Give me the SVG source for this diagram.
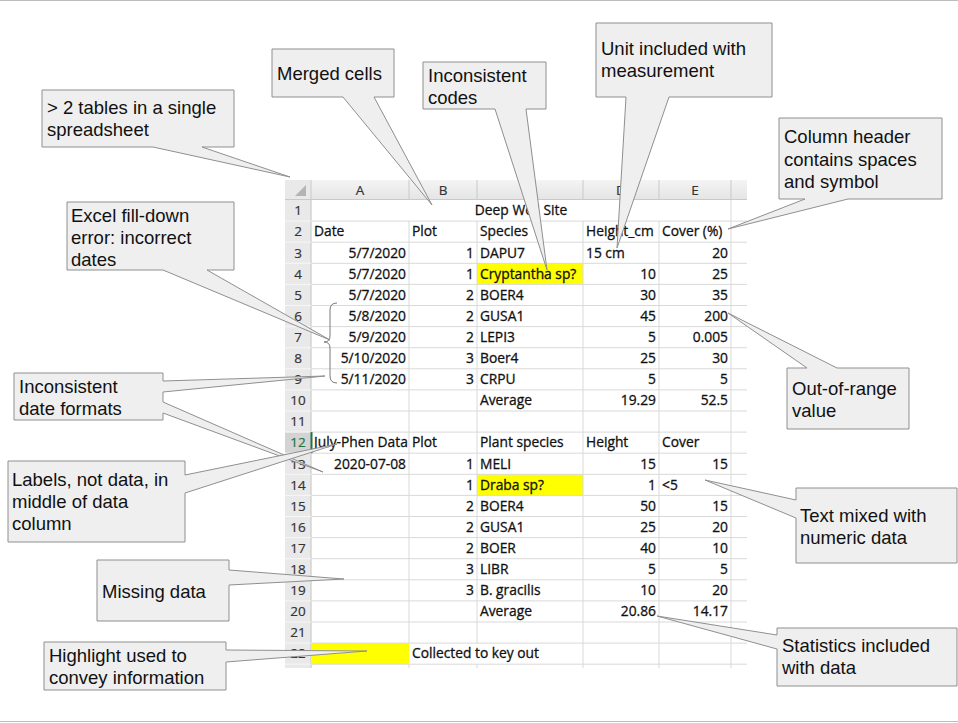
<svg xmlns="http://www.w3.org/2000/svg" width="958" height="723" viewBox="0 0 958 723">
<defs>
<linearGradient id="hdr" x1="0" y1="0" x2="0" y2="1">
<stop offset="0" stop-color="#f4f4f4"/>
<stop offset="1" stop-color="#e4e4e4"/>
</linearGradient>
<style>
.c{font-family:"Open Sans","DejaVu Sans",sans-serif;font-size:13.8px;fill:#111;stroke:#111;stroke-width:0.3}
.r{text-anchor:end}
.m{text-anchor:middle}
.h{font-family:"Open Sans","DejaVu Sans",sans-serif;font-size:13.5px;fill:#333;stroke:#333;stroke-width:0.2;text-anchor:middle}
.g{stroke:#d9d9d9;stroke-width:1;fill:none}
.co{fill:#efefef;stroke:#8f8f8f;stroke-width:1}
.t{font-family:"Liberation Sans",Arial,sans-serif;font-size:18.5px;fill:#111}
</style>
</defs>
<rect width="958" height="723" fill="#fff"/>
<line x1="0" y1="0.5" x2="958" y2="0.5" stroke="#bdbdbd"/>
<line x1="0" y1="721.5" x2="958" y2="721.5" stroke="#bdbdbd"/>

<g id="sheet">
<rect x="285" y="180" width="462" height="20" fill="url(#hdr)"/>
<rect x="285" y="180" width="26" height="488" fill="#e9e9e9"/>
<rect x="285" y="432.1" width="26" height="21.1" fill="#d3d3d3"/>
<polygon points="306,185 306,196 295,196" fill="#b4b4b4"/>
<g stroke="#c9c9c9" stroke-width="1">
<line x1="311" y1="180" x2="311" y2="200"/><line x1="409" y1="180" x2="409" y2="200"/><line x1="477" y1="180" x2="477" y2="200"/><line x1="583" y1="180" x2="583" y2="200"/><line x1="659" y1="180" x2="659" y2="200"/><line x1="731" y1="180" x2="731" y2="200"/>
<line x1="285" y1="199.5" x2="747" y2="199.5"/>
</g>
<line x1="311" y1="200" x2="311" y2="668" stroke="#c2c2c2"/>
<g stroke="#f7f7f7" stroke-width="1">
<line x1="285" y1="221.1" x2="311" y2="221.1"/><line x1="285" y1="242.2" x2="311" y2="242.2"/><line x1="285" y1="263.3" x2="311" y2="263.3"/><line x1="285" y1="284.4" x2="311" y2="284.4"/><line x1="285" y1="305.5" x2="311" y2="305.5"/><line x1="285" y1="326.6" x2="311" y2="326.6"/><line x1="285" y1="347.7" x2="311" y2="347.7"/><line x1="285" y1="368.8" x2="311" y2="368.8"/><line x1="285" y1="389.9" x2="311" y2="389.9"/><line x1="285" y1="411" x2="311" y2="411"/><line x1="285" y1="432.1" x2="311" y2="432.1"/><line x1="285" y1="453.2" x2="311" y2="453.2"/><line x1="285" y1="474.3" x2="311" y2="474.3"/><line x1="285" y1="495.4" x2="311" y2="495.4"/><line x1="285" y1="516.5" x2="311" y2="516.5"/><line x1="285" y1="537.6" x2="311" y2="537.6"/><line x1="285" y1="558.7" x2="311" y2="558.7"/><line x1="285" y1="579.8" x2="311" y2="579.8"/><line x1="285" y1="600.9" x2="311" y2="600.9"/><line x1="285" y1="622" x2="311" y2="622"/><line x1="285" y1="643.1" x2="311" y2="643.1"/><line x1="285" y1="664.2" x2="311" y2="664.2"/>
</g>
<rect x="477" y="263.3" width="106" height="21.1" fill="#ffff00"/>
<rect x="477" y="474.3" width="106" height="21.1" fill="#ffff00"/>
<rect x="311" y="643.1" width="98" height="21.1" fill="#ffff00"/>
<g class="g">
<line x1="311" y1="221.1" x2="747" y2="221.1"/><line x1="311" y1="242.2" x2="747" y2="242.2"/><line x1="311" y1="263.3" x2="747" y2="263.3"/><line x1="311" y1="284.4" x2="747" y2="284.4"/><line x1="311" y1="305.5" x2="747" y2="305.5"/><line x1="311" y1="326.6" x2="747" y2="326.6"/><line x1="311" y1="347.7" x2="747" y2="347.7"/><line x1="311" y1="368.8" x2="747" y2="368.8"/><line x1="311" y1="389.9" x2="747" y2="389.9"/><line x1="311" y1="411" x2="747" y2="411"/><line x1="311" y1="432.1" x2="747" y2="432.1"/><line x1="311" y1="453.2" x2="747" y2="453.2"/><line x1="311" y1="474.3" x2="747" y2="474.3"/><line x1="311" y1="495.4" x2="747" y2="495.4"/><line x1="311" y1="516.5" x2="747" y2="516.5"/><line x1="311" y1="537.6" x2="747" y2="537.6"/><line x1="311" y1="558.7" x2="747" y2="558.7"/><line x1="311" y1="579.8" x2="747" y2="579.8"/><line x1="311" y1="600.9" x2="747" y2="600.9"/><line x1="311" y1="622" x2="747" y2="622"/><line x1="311" y1="643.1" x2="747" y2="643.1"/><line x1="311" y1="664.2" x2="747" y2="664.2"/>
<line x1="409" y1="221.1" x2="409" y2="643.1"/><line x1="409" y1="664.2" x2="409" y2="668"/>
<line x1="477" y1="221.1" x2="477" y2="643.1"/><line x1="477" y1="664.2" x2="477" y2="668"/>
<line x1="583" y1="221.1" x2="583" y2="668"/>
<line x1="659" y1="221.1" x2="659" y2="668"/>
<line x1="731" y1="200" x2="731" y2="668"/>
</g>
<rect x="310.5" y="432.1" width="2" height="21.1" fill="#217346"/>
<text class="h" x="360" y="195">A</text><text class="h" x="443" y="195">B</text><text class="h" x="530" y="195">C</text><text class="h" x="621" y="195">D</text><text class="h" x="695" y="195">E</text>
<g class="h">
<text x="298" y="215.3">1</text><text x="298" y="236.4">2</text><text x="298" y="257.5">3</text><text x="298" y="278.6">4</text><text x="298" y="299.7">5</text><text x="298" y="320.8">6</text><text x="298" y="341.9">7</text><text x="298" y="363">8</text><text x="298" y="384.1">9</text><text x="298" y="405.2">10</text><text x="298" y="426.3">11</text><text x="298" y="447.4" style="fill:#217346;stroke:#217346">12</text><text x="298" y="468.5">13</text><text x="298" y="489.6">14</text><text x="298" y="510.7">15</text><text x="298" y="531.8">16</text><text x="298" y="552.9">17</text><text x="298" y="574">18</text><text x="298" y="595.1">19</text><text x="298" y="616.2">20</text><text x="298" y="637.3">21</text><text x="298" y="658.4">22</text>
</g>
<g class="c">
<text class="m" x="521" y="215.3">Deep Well Site</text>
<text x="314" y="236.4">Date</text><text x="412" y="236.4">Plot</text><text x="480" y="236.4">Species</text><text x="586" y="236.4">Height_cm</text><text x="662" y="236.4">Cover (%)</text>
<text class="r" x="406" y="257.5">5/7/2020</text><text class="r" x="474" y="257.5">1</text><text x="480" y="257.5">DAPU7</text><text x="586" y="257.5">15 cm</text><text class="r" x="728" y="257.5">20</text>
<text class="r" x="406" y="278.6">5/7/2020</text><text class="r" x="474" y="278.6">1</text><text x="480" y="278.6">Cryptantha sp?</text><text class="r" x="656" y="278.6">10</text><text class="r" x="728" y="278.6">25</text>
<text class="r" x="406" y="299.7">5/7/2020</text><text class="r" x="474" y="299.7">2</text><text x="480" y="299.7">BOER4</text><text class="r" x="656" y="299.7">30</text><text class="r" x="728" y="299.7">35</text>
<text class="r" x="406" y="320.8">5/8/2020</text><text class="r" x="474" y="320.8">2</text><text x="480" y="320.8">GUSA1</text><text class="r" x="656" y="320.8">45</text><text class="r" x="728" y="320.8">200</text>
<text class="r" x="406" y="341.9">5/9/2020</text><text class="r" x="474" y="341.9">2</text><text x="480" y="341.9">LEPI3</text><text class="r" x="656" y="341.9">5</text><text class="r" x="728" y="341.9">0.005</text>
<text class="r" x="406" y="363">5/10/2020</text><text class="r" x="474" y="363">3</text><text x="480" y="363">Boer4</text><text class="r" x="656" y="363">25</text><text class="r" x="728" y="363">30</text>
<text class="r" x="406" y="384.1">5/11/2020</text><text class="r" x="474" y="384.1">3</text><text x="480" y="384.1">CRPU</text><text class="r" x="656" y="384.1">5</text><text class="r" x="728" y="384.1">5</text>
<text x="480" y="405.2">Average</text><text class="r" x="656" y="405.2">19.29</text><text class="r" x="728" y="405.2">52.5</text>
<text x="314" y="447.4">July-Phen Data</text><text x="412" y="447.4">Plot</text><text x="480" y="447.4">Plant species</text><text x="586" y="447.4">Height</text><text x="662" y="447.4">Cover</text>
<text class="r" x="406" y="468.5">2020-07-08</text><text class="r" x="474" y="468.5">1</text><text x="480" y="468.5">MELI</text><text class="r" x="656" y="468.5">15</text><text class="r" x="728" y="468.5">15</text>
<text class="r" x="474" y="489.6">1</text><text x="480" y="489.6">Draba sp?</text><text class="r" x="656" y="489.6">1</text><text x="662" y="489.6">&lt;5</text>
<text class="r" x="474" y="510.7">2</text><text x="480" y="510.7">BOER4</text><text class="r" x="656" y="510.7">50</text><text class="r" x="728" y="510.7">15</text>
<text class="r" x="474" y="531.8">2</text><text x="480" y="531.8">GUSA1</text><text class="r" x="656" y="531.8">25</text><text class="r" x="728" y="531.8">20</text>
<text class="r" x="474" y="552.9">2</text><text x="480" y="552.9">BOER</text><text class="r" x="656" y="552.9">40</text><text class="r" x="728" y="552.9">10</text>
<text class="r" x="474" y="574">3</text><text x="480" y="574">LIBR</text><text class="r" x="656" y="574">5</text><text class="r" x="728" y="574">5</text>
<text class="r" x="474" y="595.1">3</text><text x="480" y="595.1">B. gracilis</text><text class="r" x="656" y="595.1">10</text><text class="r" x="728" y="595.1">20</text>
<text x="480" y="616.2">Average</text><text class="r" x="656" y="616.2">20.86</text><text class="r" x="728" y="616.2">14.17</text>
<text x="412" y="658.4">Collected to key out</text>
</g>
</g>

<g id="connectors">
<path d="M337,303 Q330,303 330,310 V336 Q330,342 324,342 Q330,342 330,348 V376 Q330,383 337,383" fill="none" stroke="#7a7a7a" stroke-width="1"/>
</g>

<g id="callout-tables">
<path class="co" d="M42,90 H234 V147 H202 L290,177 L153,147 H42 Z"/>
<text class="t" x="47" y="114">&gt; 2 tables in a single</text><text class="t" x="47" y="136">spreadsheet</text>
</g>
<g id="callout-merged">
<path class="co" d="M272,49 H394 V97 H374 L432,205 L343,97 H272 Z"/>
<text class="t" x="277" y="80">Merged cells</text>
</g>
<g id="callout-codes">
<path class="co" d="M423,62 H546 V109 H526 L547,270 L495,109 H423 Z"/>
<text class="t" x="428" y="82">Inconsistent</text><text class="t" x="428" y="104">codes</text>
</g>
<g id="callout-unit">
<path class="co" d="M596,23 H772 V97 H669 L617,248 L626,97 H596 Z"/>
<text class="t" x="601" y="55">Unit included with</text><text class="t" x="601" y="77">measurement</text>
</g>
<g id="callout-header">
<path class="co" d="M779,118 H942 V199 H848 L728,229 L805,199 H779 Z"/>
<text class="t" x="784" y="143">Column header</text><text class="t" x="784" y="165.5">contains spaces</text><text class="t" x="784" y="188">and symbol</text>
</g>
<g id="callout-filldown">
<path class="co" d="M67,202 H234 V270 H207 L330,340 L163,270 H67 Z"/>
<text class="t" x="71" y="222">Excel fill-down</text><text class="t" x="71" y="244">error: incorrect</text><text class="t" x="71" y="266">dates</text>
</g>
<g id="callout-dateformats">
<path class="co" d="M14,373 H163 V381 L325,376 L163,392 V402 L323,472 L163,413 V420 H14 Z"/>
<text class="t" x="19" y="393">Inconsistent</text><text class="t" x="19" y="415">date formats</text>
</g>
<g id="callout-labels">
<path class="co" d="M8,461 H185 V475 L337,444 L185,493 V542 H8 Z"/>
<text class="t" x="12" y="486">Labels, not data, in</text><text class="t" x="12" y="508">middle of data</text><text class="t" x="12" y="530">column</text>
</g>
<g id="callout-missing">
<path class="co" d="M97,560 H229 V570 L344,579 L229,585 V621 H97 Z"/>
<text class="t" x="102" y="598">Missing data</text>
</g>
<g id="callout-highlight">
<path class="co" d="M44,642 H226 V650 L367,651 L226,662 V690 H44 Z"/>
<text class="t" x="49" y="662">Highlight used to</text><text class="t" x="49" y="684">convey information</text>
</g>
<g id="callout-outofrange">
<path class="co" d="M787,368 H807 L728,313 L837,368 H909 V429 H787 Z"/>
<text class="t" x="792" y="395">Out-of-range</text><text class="t" x="792" y="417">value</text>
</g>
<g id="callout-textmixed">
<path class="co" d="M796,488 H957 V563 H796 V518 L705,480 L796,500 Z"/>
<text class="t" x="800" y="522">Text mixed with</text><text class="t" x="800" y="544">numeric data</text>
</g>
<g id="callout-statistics">
<path class="co" d="M777,628 H957 V686 H777 V649 L657,616 L777,635 Z"/>
<text class="t" x="782" y="652">Statistics included</text><text class="t" x="782" y="674">with data</text>
</g>
</svg>
